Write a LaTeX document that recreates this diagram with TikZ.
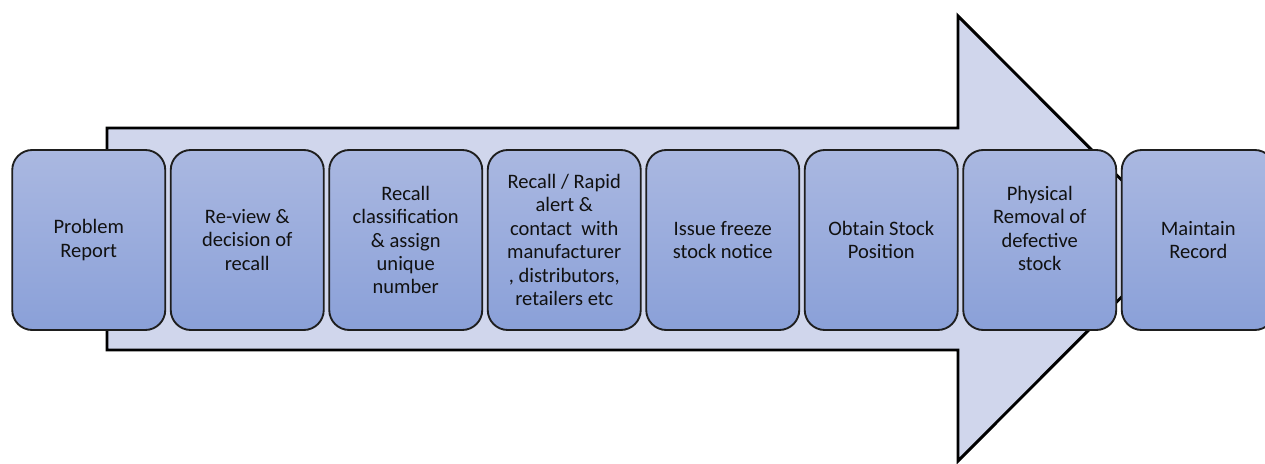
\documentclass[tikz,border=0pt]{standalone}
\usepackage{fontspec}
\setmainfont{Carlito}
\definecolor{arrowfill}{HTML}{D0D6EC}
\definecolor{boxtop}{HTML}{AAB8E1}
\definecolor{boxbot}{HTML}{8AA0D8}
\definecolor{boxline}{HTML}{1E1E1E}
\definecolor{boxtext}{HTML}{111111}
\tikzset{
  bigarrow/.style={draw=black, line width=2.2pt, fill=arrowfill, line join=miter},
  stepbox/.style={draw=boxline, line width=1.4pt, rounded corners=15pt,
    top color=boxtop, bottom color=boxbot,
    minimum width=114.75pt, minimum height=135pt, inner sep=0pt,
    align=center, text=boxtext, font=\fontsize{15.4}{17.6}\selectfont}
}
\begin{document}
\begin{tikzpicture}[x=0.75pt, y=-0.75pt]
\useasboundingbox (0,0) rectangle (1265,464);
\clip (0,0) rectangle (1265,464);
% process arrow behind the steps
\draw[bigarrow] (107,128) -- (958,128) -- (958,16) -- (1180,238.5)
  -- (958,461) -- (958,350) -- (107,350) -- cycle;
% process steps
\node[stepbox] (s1) at (88.75,240) {Problem\\Report};
\node[stepbox] (s2) at (247.25,240) {Re-view \&\\decision of\\recall};
\node[stepbox] (s3) at (405.75,240) {Recall\\classification\\\& assign\\unique\\number};
\node[stepbox] (s4) at (564.25,240) {Recall / Rapid\\alert \&\\contact~ with\\manufacturer\\, distributors,\\retailers etc};
\node[stepbox] (s5) at (722.75,240) {Issue freeze\\stock notice};
\node[stepbox] (s6) at (881.25,240) {Obtain Stock\\Position};
\node[stepbox] (s7) at (1039.75,240) {Physical\\Removal of\\defective\\stock\\\mbox{}};
\node[stepbox] (s8) at (1198.25,240) {Maintain\\Record};
\end{tikzpicture}
\end{document}
